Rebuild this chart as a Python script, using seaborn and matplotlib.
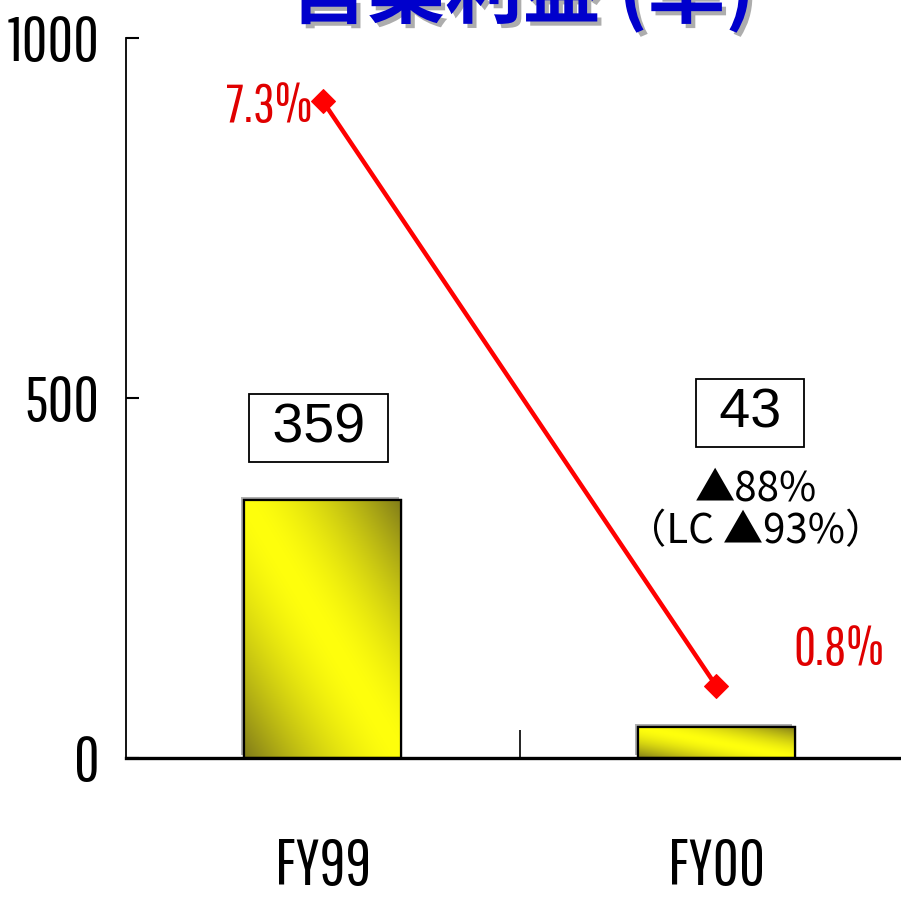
import numpy as np
import pandas as pd
import matplotlib
matplotlib.use("Agg")
import matplotlib.pyplot as plt
import matplotlib.patheffects as pe
from matplotlib.patches import Rectangle
import seaborn as sns

# ---- data ----
categories = ["FY99", "FY00"]
profit = [359, 43]
margin_pct = [7.3, 0.8]
margin_labels = ["7.3%", "0.8%"]
change_lines = ["▲88%", "（LC ▲93%）"]
title_text = "営業利益 (単)"
y_ticks = [0, 500, 1000]

sns.set_style("ticks")
NARROW = ["Pathway Gothic One", "DejaVu Sans"]
CJK = ["Noto Sans CJK JP", "DejaVu Sans"]
plt.rcParams["font.family"] = ["Liberation Sans", "Noto Sans CJK JP", "DejaVu Sans"]
plt.rcParams["text.color"] = "black"
plt.rcParams["xtick.color"] = "black"
plt.rcParams["ytick.color"] = "black"
plt.rcParams["axes.edgecolor"] = "black"

W, H = 901, 897
fig = plt.figure(figsize=(W / 100, H / 100), dpi=100)
fig.patch.set_facecolor("white")
ax = fig.add_axes([126 / W, 139 / H, (913 - 126) / W, 720 / H])
ax.set_facecolor("none")

df = pd.DataFrame({"cat": categories, "profit": profit})
sns.barplot(data=df, x="cat", y="profit", ax=ax, width=0.4,
            color="yellow", edgecolor="black", linewidth=1.6, zorder=3)

# gradient fill inside bars
yellow = np.array([1.0, 1.0, 0.05])
olive = np.array([0.50, 0.48, 0.10])
n = 200
XX, YY = np.meshgrid(np.linspace(0, 1, n), np.linspace(0, 1, n))
for p in ax.patches:
    x0, y0 = p.get_x(), p.get_y()
    w, h = p.get_width(), p.get_height()
    t = np.abs(XX + YY - 1.0)
    a = np.clip(t, 0, 1) ** 1.6
    img = yellow[None, None, :] * (1 - a[..., None]) + olive[None, None, :] * a[..., None]
    im = ax.imshow(img, origin="lower", extent=[x0, x0 + w, y0, y0 + h],
                   aspect="auto", zorder=3.5, interpolation="bilinear")
    im.set_clip_path(p)
    ax.add_patch(Rectangle((x0, y0), w, h, facecolor="none", edgecolor="black",
                           linewidth=1.6, zorder=4))
    p.set_path_effects([pe.SimplePatchShadow(offset=(-2, 2), shadow_rgbFace="#b0b0b0", alpha=1.0), pe.Normal()])

ax.set_xlim(-0.5, 1.5)
ax.set_ylim(0, 1000)
ax.set_yticks(y_ticks)
ax.set_yticklabels([str(v) for v in y_ticks], fontsize=45, family=NARROW)
ax.set_xticks(range(len(categories)))
ax.set_xticklabels(categories, fontsize=46, family=NARROW)
ax.set_xticks([0.5], minor=True)
ax.tick_params(axis="x", which="major", length=0, pad=57)
ax.tick_params(axis="x", which="minor", direction="in", length=20, width=1.2, color="black")
ax.tick_params(axis="y", direction="in", length=9, width=1.5, pad=19, color="black")
ax.set_xlabel("")
ax.set_ylabel("")
for s in ["top", "right"]:
    ax.spines[s].set_visible(False)
ax.spines["left"].set_linewidth(1.3)
ax.spines["bottom"].set_linewidth(2.4)
ax.spines["bottom"].set_zorder(5)

# value boxes
box_x = [-0.01, 1.086]
box_y = [458, 479]
for i, v in enumerate(profit):
    ax.text(box_x[i], box_y[i], f" {v} ", ha="center", va="center", fontsize=40,
            family=["Liberation Sans", "DejaVu Sans"], zorder=6,
            bbox=dict(boxstyle="square,pad=0.14", facecolor="white", edgecolor="black", linewidth=1.3))

# change text under FY00 box
ax.text(1.1, 374, change_lines[0], ha="center", va="center", fontsize=29, family=CJK, zorder=6)
ax.text(1.1, 314, change_lines[1], ha="center", va="center", fontsize=29, family=CJK, zorder=6)

# margin line on secondary axis
ax2 = ax.twinx()
ax2.set_position(ax.get_position())
mdf = pd.DataFrame({"cat": [0, 1], "m": margin_pct})
sns.lineplot(data=mdf, x="cat", y="m", ax=ax2, color="#ff0000", linewidth=3.2,
             marker="D", markersize=12, markeredgecolor="#ff0000", zorder=7)
ax2.set_ylim(0, 8)
ax2.set_xlim(-0.5, 1.5)
ax2.axis("off")
ax2.annotate(margin_labels[0], (0, margin_pct[0]), xytext=(-10, -6), textcoords="offset pixels",
             ha="right", va="center", color="#e00000", fontsize=39, family=NARROW)
ax2.annotate(margin_labels[1], (1, margin_pct[1]), xytext=(123, 36), textcoords="offset pixels",
             ha="center", va="center", color="#e00000", fontsize=39, family=NARROW)

# title (mostly cropped at the top)
fig.text(522 / W, 1 - 17 / H, title_text, ha="center", va="baseline", fontsize=56,
         fontweight="bold", color="#0000cc", family=CJK,
         path_effects=[pe.withSimplePatchShadow(offset=(3, -3), shadow_rgbFace="#999999", alpha=0.8)])

fig.savefig("out.png", dpi=100)
